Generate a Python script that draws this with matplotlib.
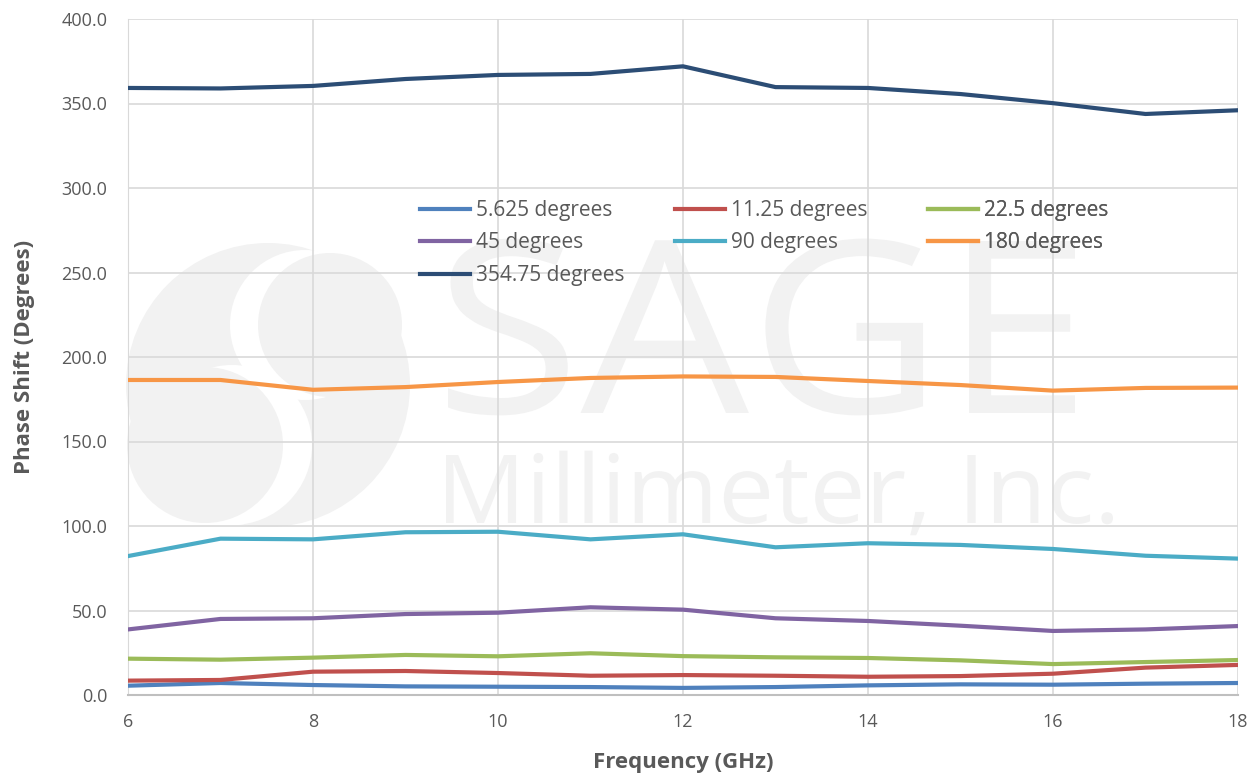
import matplotlib.pyplot as plt
from matplotlib.patches import Circle, PathPatch
from matplotlib.textpath import TextPath
from matplotlib.font_manager import FontProperties
from matplotlib.transforms import IdentityTransform, Affine2D

freq = [6, 7, 8, 9, 10, 11, 12, 13, 14, 15, 16, 17, 18]

deg_5_625 = [5.5, 7.1, 5.9, 5.1, 4.9, 4.7, 4.2, 4.7, 5.7, 6.3, 6.1, 6.7, 7.1]
deg_11_25 = [8.5, 8.9, 13.8, 14.2, 13.0, 11.4, 11.8, 11.4, 10.8, 11.2, 12.6, 16.2, 17.8]
deg_22_5 = [21.5, 20.9, 22.1, 23.7, 22.9, 24.7, 23.0, 22.3, 21.9, 20.5, 18.3, 19.5, 20.7]
deg_45 = [38.8, 45.0, 45.4, 47.9, 48.7, 51.9, 50.5, 45.4, 43.8, 41.0, 37.9, 38.8, 40.8]
deg_90 = [82.2, 92.5, 92.1, 96.3, 96.6, 92.1, 95.1, 87.4, 89.8, 88.8, 86.4, 82.4, 80.7]
deg_180 = [186.4, 186.4, 180.6, 182.2, 185.2, 187.6, 188.5, 188.2, 185.8, 183.4, 180.1, 181.7, 181.9]
deg_354_75 = [359.2, 358.9, 360.4, 364.5, 366.9, 367.5, 372.0, 359.7, 359.2, 355.6, 350.2, 343.8, 346.0]

names = ["5.625 degrees", "11.25 degrees", "22.5 degrees", "45 degrees",
         "90 degrees", "180 degrees", "354.75 degrees"]
values = [deg_5_625, deg_11_25, deg_22_5, deg_45, deg_90, deg_180, deg_354_75]
colors = ["#4F81BD", "#C0504D", "#9BBB59", "#8064A2", "#4BACC6", "#F79646", "#2C4D75"]

plt.rcParams['font.family'] = ['Open Sans', 'DejaVu Sans']

W, H = 1258, 774
fig = plt.figure(figsize=(W / 100, H / 100), dpi=100)
ax = fig.add_axes([128 / W, 1 - 695 / H, 1110 / W, 676 / H])

# faint company watermark, drawn in pixel coordinates (top-left origin)
wm = "#F2F2F2"
px = IdentityTransform()


def disk(cx, cy, r, col):
    c = Circle((cx, H - cy), r, transform=px, color=col, zorder=0.1, clip_on=False, lw=0)
    ax.add_patch(c)


disk(268, 385, 142, wm)
disk(305, 325, 75, "white")
disk(232, 445, 80, "white")
disk(330, 325, 72, wm)
disk(205, 445, 78, wm)


def word(s, x0, x1, base, cap, fam="Open Sans"):
    fp = FontProperties(family=fam)
    tp = TextPath((0, 0), s, size=100, prop=fp)
    capb = TextPath((0, 0), "M", size=100, prop=fp).get_extents()
    b = tp.get_extents()
    sx = (x1 - x0) / b.width
    sy = cap / capb.height
    tr = Affine2D().translate(-b.x0, 0).scale(sx, sy).translate(x0, H - base)
    ax.add_patch(PathPatch(tr.transform_path(tp), transform=px, color=wm, lw=0,
                           zorder=0.1, clip_on=False))


word("SAGE", 448, 1075, 413, 172)
word("Millimeter, Inc.", 446, 1113, 523, 68)

lines = []
for name, vals, col in zip(names, values, colors):
    ln, = ax.plot(freq, vals, color=col, lw=3.0, label=name, zorder=3)
    lines.append(ln)

ax.set_xlim(6, 18)
ax.set_ylim(0, 400)
ax.set_xticks([6, 8, 10, 12, 14, 16, 18])
ax.set_yticks(range(0, 401, 50))
ax.set_yticklabels([f"{v:.1f}" for v in range(0, 401, 50)])
ax.grid(True, color="#D9D9D9", lw=1.2)
ax.set_axisbelow(True)
for s in ["top", "right"]:
    ax.spines[s].set_visible(False)
ax.spines["left"].set_color("#D9D9D9")
ax.spines["bottom"].set_color("#BFBFBF")
ax.spines["bottom"].set_linewidth(1.5)
ax.tick_params(length=0, labelsize=13, colors="#595959")
ax.tick_params(axis="y", pad=15)
ax.tick_params(axis="x", pad=13)

ax.set_xlabel("Frequency (GHz)", fontsize=16, fontweight="bold", color="#595959", labelpad=15)
ax.set_ylabel("Phase Shift (Degrees)", fontsize=16, fontweight="bold", color="#595959", labelpad=19)

# legend laid out in rows of three, one legend per column
cols = [[0, 3, 6], [1, 4], [2, 5]]
col_x = [420, 675, 928]
for idx, cx in zip(cols, col_x):
    leg = ax.legend([lines[i] for i in idx], [names[i] for i in idx],
                    loc="upper left", bbox_to_anchor=(cx, H - 200), bbox_transform=px,
                    frameon=False, fontsize=15, handlelength=2.4, handletextpad=0.3,
                    labelspacing=0.55, borderpad=0, borderaxespad=0)
    for t in leg.get_texts():
        t.set_color("#595959")
    ax.add_artist(leg)

fig.savefig("out.png", dpi=100)
